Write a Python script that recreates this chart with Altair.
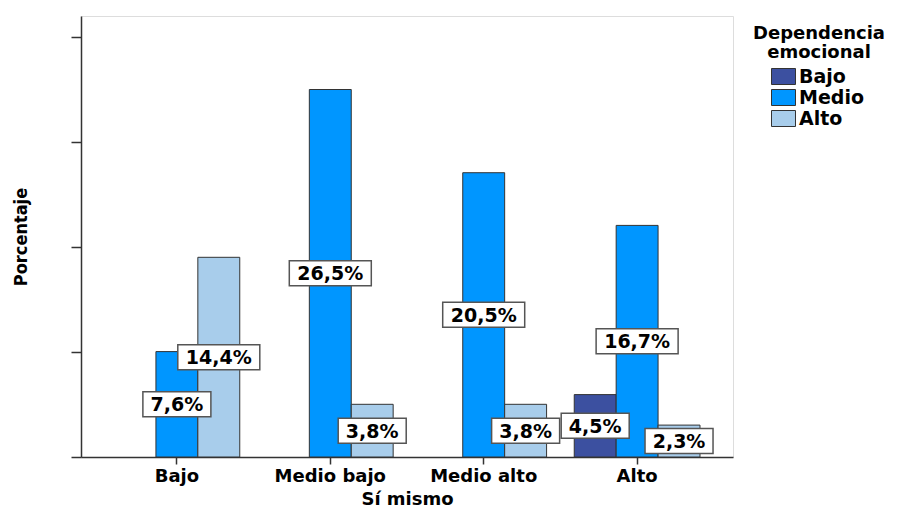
import altair as alt
import pandas as pd

# ---- data ----
categories = ["Bajo", "Medio bajo", "Medio alto", "Alto"]
series = ["Bajo", "Medio", "Alto"]
bajo_vals = [None, None, None, 4.5]
medio_vals = [7.6, 26.5, 20.5, 16.7]
alto_vals = [14.4, 3.8, 3.8, 2.3]
colors = ["#3C50A0", "#0096FF", "#A8CDEB"]
y_ticks = [0, 7.58, 15.15, 22.73, 30.30]
y_max = 31.8

rows = []
for s, vals in zip(series, [bajo_vals, medio_vals, alto_vals]):
    for c, v in zip(categories, vals):
        if v is None:
            continue
        rows.append({"cat": c, "serie": s, "val": v,
                     "label": f"{v:.1f}".replace(".", ",") + "%"})
df = pd.DataFrame(rows)

FONT = "DejaVu Sans"

base = alt.Chart(df).encode(
    x=alt.X("cat:N", sort=categories,
            scale=alt.Scale(domain=categories, paddingInner=0, paddingOuter=0.125),
            axis=alt.Axis(title="Sí mismo", labelAngle=0, tickSize=7, labelPadding=3,
                          labelFont=FONT, labelFontSize=18, labelFontWeight="bold",
                          labelColor="black", titleFont=FONT, titleFontSize=18,
                          titleFontWeight="bold", titleColor="black", titlePadding=5,
                          domainColor="#333", domainWidth=1.5, tickColor="#333",
                          tickWidth=1.5)),
    xOffset=alt.XOffset("serie:N", sort=series,
                        scale=alt.Scale(domain=series, paddingInner=0, paddingOuter=0.33)),
)

bars = base.mark_bar(stroke="#333", strokeWidth=1).encode(
    y=alt.Y("val:Q", scale=alt.Scale(domain=[0, y_max], nice=False, zero=True),
            axis=alt.Axis(title="Porcentaje", values=y_ticks, labels=False, grid=False,
                          tickSize=10, domainColor="#333", domainWidth=1.5,
                          tickColor="#333", tickWidth=1.5,
                          titleFont="Liberation Sans Narrow, DejaVu Sans Condensed, sans-serif",
                          titleFontSize=18, titleFontWeight="bold", titleColor="black",
                          titlePadding=40)),
    color=alt.Color("serie:N", sort=series,
                    scale=alt.Scale(domain=series, range=colors),
                    legend=alt.Legend(title=["Dependencia", "emocional"], orient="none",
                                      legendX=672, legendY=9, padding=0,
                                      titleAlign="center", titleAnchor="middle",
                                      titleFont=FONT, titleFontSize=18,
                                      titleFontWeight="bold", titleColor="black",
                                      titleLineHeight=19, titlePadding=5,
                                      labelFont=FONT, labelFontSize=19,
                                      labelFontWeight="bold", labelColor="black",
                                      labelOffset=6, rowPadding=0,
                                      symbolType="M-1.5,-1H1.5V1H-1.5Z", symbolSize=256,
                                      symbolStrokeColor="#333", symbolStrokeWidth=1)),
)

boxes = base.transform_calculate(
    mid="datum.val / 2",
    box="length(datum.label) > 4 ? 'M-8.2,-2.5H8.2V2.5H-8.2Z' : 'M-6.8,-2.5H6.8V2.5H-6.8Z'",
).mark_point(filled=True, fill="white", stroke="#555", strokeWidth=1.5,
             opacity=1, size=100).encode(
    y=alt.Y("mid:Q"),
    shape=alt.Shape("box:N", scale=None),
)

texts = base.transform_calculate(mid="datum.val / 2").mark_text(
    font=FONT, fontWeight="bold", fontSize=19, color="black", baseline="middle",
    dy=1,
).encode(
    y=alt.Y("mid:Q"),
    text="label:N",
)

chart = alt.layer(bars, boxes, texts).properties(
    width=652, height=441,
    autosize=alt.AutoSizeParams(type="none"),
    padding={"left": 73, "top": 8, "right": 164, "bottom": 52},
).configure_view(stroke="#777", strokeWidth=1.5).configure(background="white")

chart.save("out.html", embed_options={"renderer": "svg", "actions": False})
